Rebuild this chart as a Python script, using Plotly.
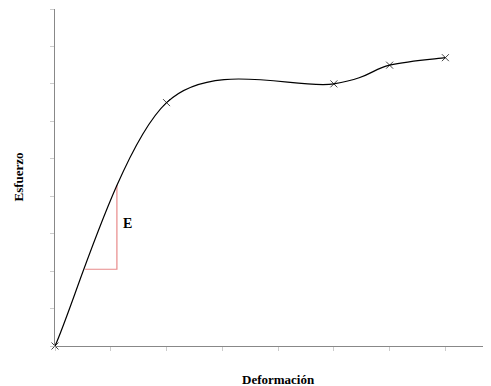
import plotly.graph_objects as go

strain = [0, 2, 5, 6, 7]
stress = [0, 6.5, 7.0, 7.5, 7.7]
tri_x = [0.54, 1.11, 1.11]
tri_y = [2.05, 2.05, 4.3]
e_label = "E"
e_pos = (1.3, 3.28)
x_title = "Deformación"
y_title = "Esfuerzo"

font_fam = "Liberation Serif, DejaVu Serif, serif"


def smooth_path(xs, ys, tension=1 / 6):
    """Smoothed line (Catmull-Rom style Bezier, as in spreadsheet 'smoothed lines')."""
    n = len(xs)
    parts = ["M %g,%g" % (xs[0], ys[0])]
    for i in range(n - 1):
        p0 = max(i - 1, 0)
        p3 = min(i + 2, n - 1)
        c1x = xs[i] + (xs[i + 1] - xs[p0]) * tension
        c1y = ys[i] + (ys[i + 1] - ys[p0]) * tension
        c2x = xs[i + 1] - (xs[p3] - xs[i]) * tension
        c2y = ys[i + 1] - (ys[p3] - ys[i]) * tension
        parts.append("C %g,%g %g,%g %g,%g" % (c1x, c1y, c2x, c2y, xs[i + 1], ys[i + 1]))
    return " ".join(parts)


fig = go.Figure()
fig.add_shape(type="path", xref="x", yref="y", path=smooth_path(strain, stress),
              line=dict(color="black", width=1.2), layer="above")
fig.add_trace(go.Scatter(
    x=strain, y=stress, mode="markers",
    marker=dict(symbol="x-thin", size=7, line=dict(color="#444", width=1)),
    showlegend=False, hoverinfo="skip", cliponaxis=False))
fig.add_trace(go.Scatter(
    x=tri_x, y=tri_y, mode="lines",
    line=dict(color="#e88a8a", width=1.2),
    showlegend=False, hoverinfo="skip"))
fig.add_annotation(x=e_pos[0], y=e_pos[1], text="<b>%s</b>" % e_label, showarrow=False,
                   xanchor="center", yanchor="middle",
                   font=dict(family=font_fam, size=14, color="black"))
fig.add_annotation(x=0.513, xref="paper", y=-0.098, yref="paper", text="<b>%s</b>" % x_title,
                   showarrow=False, xanchor="center", yanchor="middle",
                   font=dict(family=font_fam, size=13, color="black"))
fig.add_annotation(x=-0.085, xref="paper", y=0.5, yref="paper", text="<b>%s</b>" % y_title,
                   showarrow=False, textangle=-90, xanchor="center", yanchor="middle",
                   font=dict(family=font_fam, size=13, color="black"))

fig.update_xaxes(range=[0, 7.8], dtick=1, tick0=0, showgrid=False, zeroline=False,
                 showline=True, linecolor="#888", linewidth=1,
                 ticks="outside", ticklen=4, tickcolor="#ccc", showticklabels=False)
fig.update_yaxes(range=[0, 9], dtick=1, tick0=0, showgrid=False, zeroline=False,
                 showline=True, linecolor="#888", linewidth=1,
                 ticks="outside", ticklen=4, tickcolor="#ccc", showticklabels=False)
fig.update_layout(width=483, height=378, margin=dict(l=47, r=1, t=1, b=40),
                  plot_bgcolor="white", paper_bgcolor="white")
fig.write_html("out.html")
